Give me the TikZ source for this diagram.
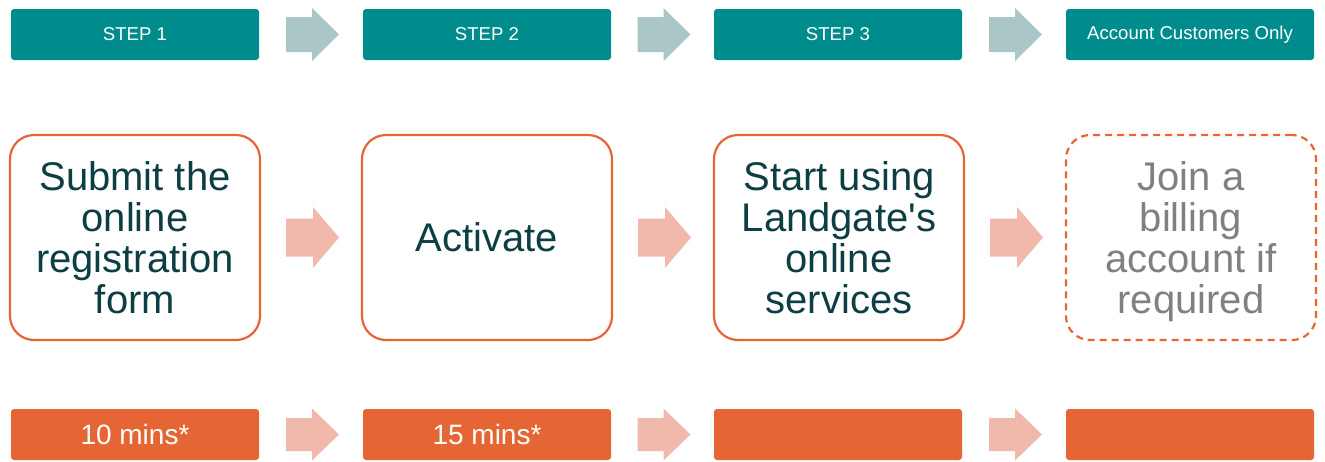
\documentclass[tikz,border=0pt]{standalone}
\usepackage{fontspec}
\newfontfamily\plainsans{Liberation Sans}
\usetikzlibrary{calc}
\definecolor{tealbox}{RGB}{0,140,140}
\definecolor{toparr}{RGB}{170,198,198}
\definecolor{orangeC}{RGB}{230,101,52}
\definecolor{pinkarr}{RGB}{240,185,172}
\definecolor{darktext}{RGB}{12,62,68}
\definecolor{graytext}{RGB}{128,128,128}
\newcommand{\nodepth}[1]{\raisebox{0pt}[\height][0pt]{#1}}
\tikzset{
  stepbox/.style={fill=tealbox, draw=none, rounded corners=3pt, minimum width=248pt, minimum height=51pt,
    text=white, font=\plainsans\fontsize{18.6}{20}\selectfont, inner sep=0pt},
  mainbox/.style={draw=orangeC, line width=2.2pt, fill=white, rounded corners=24pt, minimum width=250pt,
    minimum height=205pt, text=darktext, align=center, font=\plainsans\fontsize{40}{41}\selectfont, inner sep=0pt},
  optbox/.style={mainbox, dash pattern=on 7pt off 5pt, text=graytext},
  timebox/.style={fill=orangeC, draw=none, rounded corners=3pt, minimum width=248pt, minimum height=51pt,
    text=white, font=\plainsans\fontsize{28}{30}\selectfont, inner sep=0pt},
  pics/blockarrow/.style n args={3}{code={
    % #1 body half width, #2 head half width, #3 head length ; total half length 26.5
    \fill[pic actions] (-26.5,-#1) -- (26.5-#3,-#1) -- (26.5-#3,-#2) -- (26.5,0)
      -- (26.5-#3,#2) -- (26.5-#3,#1) -- (-26.5,#1) -- cycle;
  }}
}
\begin{document}
\begin{tikzpicture}[x=1pt,y=-1pt]
\useasboundingbox (0,0) rectangle (1325,461);
% top row
\node[stepbox] (t1) at (135,34.5) {STEP 1};
\node[stepbox] (t2) at (487,34.5) {STEP 2};
\node[stepbox] (t3) at (838,34.5) {STEP 3};
\node[stepbox] (t4) at (1190,34.5) {Account Customers Only};
% middle row
\node[mainbox] (m1) at (135,237.5) {Submit the\\online\\registration\\form};
\node[mainbox] (m2) at (487,237.5) {Activate};
\node[mainbox] (m3) at (839,237.5) {Start using\\Landgate's\\online\\services};
\node[optbox] (m4) at (1191,237.5) {Join a\\billing\\account if\\\nodepth{required}};
% bottom row
\node[timebox] (b1) at (135,434.5) {10 mins*};
\node[timebox] (b2) at (487,434.5) {15 mins*};
\node[timebox] (b3) at (838,434.5) {};
\node[timebox] (b4) at (1190,434.5) {};
% arrows
\foreach \a/\b/\n in {t1/t2/1,t2/t3/2,t3/t4/3}{
  \coordinate (ta\n) at ($(\a.east)!0.5!(\b.west)+(1.5,0)$);
  \pic[fill=toparr] at (ta\n) {blockarrow={17.5}{26.5}{27}};
}
\foreach \a/\b/\n in {m1/m2/1,m2/m3/2,m3/m4/3}{
  \coordinate (ma\n) at ($(\a.east)!0.5!(\b.west)+(1.5,0)$);
  \pic[fill=pinkarr] at (ma\n) {blockarrow={19}{30.5}{26}};
}
\foreach \a/\b/\n in {b1/b2/1,b2/b3/2,b3/b4/3}{
  \coordinate (ba\n) at ($(\a.east)!0.5!(\b.west)+(1.5,0)$);
  \pic[fill=pinkarr] at (ba\n) {blockarrow={16.5}{26}{27}};
}
\end{tikzpicture}
\end{document}
